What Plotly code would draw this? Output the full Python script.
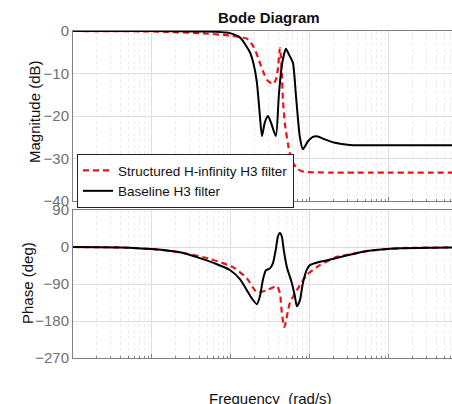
import plotly.graph_objects as go

# ---- data ----
freq_mag_base = [0.1, 1.0, 4.05, 6.27, 8.4, 9.7, 13.0, 17.4, 19.5, 21.3, 23.3, 24.7, 26.9, 29.4, 32.1,
                 37.1, 40.5, 44.2, 49.7, 54.2, 61.0, 66.5, 74.7, 81.5, 94.3, 109, 126, 155, 207, 321, 769, 6310]
mag_base = [0.0, 0.0, -0.1, -0.2, -0.35, -0.5, -1.5, -5.0, -8.0, -12.0, -20.0, -24.7, -21.5, -20.0, -21.5,
            -24.7, -15.0, -8.0, -4.2, -5.5, -7.5, -15.0, -25.0, -27.8, -26.0, -24.9, -24.8, -25.5, -26.3, -26.8, -26.9, -26.9]

freq_mag_struct = [0.1, 1.0, 1.46, 4.05, 9.7, 15.9, 19.0, 21.3, 23.3, 26.2, 28.6, 34.0, 37.1, 39.3, 41.7,
                   42.9, 44.2, 45.5, 48.3, 52.7, 55.8, 61.0, 68.4, 79.3, 91.6, 179, 6310]
mag_struct = [0.0, -0.1, -0.2, -0.5, -1.1, -1.8, -3.5, -5.5, -7.5, -10.0, -11.5, -12.5, -11.5, -9.0, -4.0,
              -6.0, -10.0, -16.0, -21.8, -26.5, -28.8, -31.0, -32.3, -33.0, -33.2, -33.3, -33.3]

freq_ph_base = [0.1, 0.39, 1.0, 2.26, 4.05, 6.27, 9.7, 13.0, 15.9, 18.4, 21.3, 23.3, 25.4, 27.7, 31.2, 34.0,
                37.1, 39.3, 41.7, 44.2, 46.9, 51.2, 59.2, 64.6, 68.4, 74.7, 81.5, 91.6, 100, 134, 195, 321, 527, 1377, 6310]
ph_base = [0, -1, -5, -13, -27, -40, -56, -78, -105, -125, -139, -120, -80, -57, -52, -40,
           -5, 25, 34, 25, -10, -49, -88, -120, -144, -130, -88, -55, -44, -36, -29, -19, -10, -3, -1]

freq_ph_struct = [0.1, 0.39, 1.0, 2.26, 5.42, 10.6, 15.9, 21.3, 28.6, 38.2, 41.7, 44.2, 47.5, 55.8, 68.4,
                  91.6, 134, 220, 321, 527, 1377, 6310]
ph_struct = [0, -1, -5, -13, -29, -49, -76, -110, -105, -95, -112, -161, -195, -136, -105,
             -68, -44, -24, -18, -10, -3, -1]

mag_ticks = [0, -10, -20, -30, -40]
phase_ticks = [90, 0, -90, -180, -270]

name_struct = "Structured H-infinity H3 filter"
name_base = "Baseline H3 filter"

RED = "#e8141c"
BLACK = "#000000"
GRID = "#dedede"
AX = "#808080"
FONT = "Liberation Sans, Arial, sans-serif"
TICKFONT = dict(family=FONT, size=15, color="#707070")

W, H = 452.0, 404.0
L_M = 73.0
PW = W - L_M

fig = go.Figure()
fig.add_trace(go.Scatter(x=freq_mag_struct, y=mag_struct, mode="lines", name=name_struct,
                         line=dict(color=RED, width=2.2, dash="6px,4px", shape="spline", smoothing=0.6),
                         xaxis="x", yaxis="y"))
fig.add_trace(go.Scatter(x=freq_mag_base, y=mag_base, mode="lines", name=name_base,
                         line=dict(color=BLACK, width=2, shape="spline", smoothing=0.6),
                         xaxis="x", yaxis="y"))
fig.add_trace(go.Scatter(x=freq_ph_struct, y=ph_struct, mode="lines", showlegend=False,
                         line=dict(color=RED, width=2.2, dash="6px,4px", shape="spline", smoothing=0.6),
                         xaxis="x2", yaxis="y2"))
fig.add_trace(go.Scatter(x=freq_ph_base, y=ph_base, mode="lines", showlegend=False,
                         line=dict(color=BLACK, width=2, shape="spline", smoothing=0.6),
                         xaxis="x2", yaxis="y2"))


def xaxis_style():
    return dict(type="log", range=[-1, 3.8], showticklabels=False, showgrid=True, gridcolor=GRID,
                gridwidth=1, showline=True, linecolor=AX, linewidth=1, mirror=True,
                ticks="inside", ticklen=4, tickcolor=AX, zeroline=False, automargin=False,
                minor=dict(showgrid=True, gridcolor="#ebebeb", griddash="dot", ticks="inside",
                           ticklen=2, tickcolor=AX))


def px_to_paper(xp, yp):
    return (xp - L_M) / PW, 1 - yp / H


ann = []
tx, ty = px_to_paper(269, 17)
ann.append(dict(text="<b>Bode Diagram</b>", x=tx, y=ty, xref="paper", yref="paper", showarrow=False,
                xanchor="center", yanchor="middle", font=dict(family=FONT, size=15, color="#111111")))
mx, my = px_to_paper(34, 112)
ann.append(dict(text="Magnitude (dB)", x=mx, y=my, xref="paper", yref="paper", showarrow=False,
                textangle=-90, xanchor="center", yanchor="middle",
                font=dict(family=FONT, size=15, color="#111111")))
qx, qy = px_to_paper(27, 283)
ann.append(dict(text="Phase (deg)", x=qx, y=qy, xref="paper", yref="paper", showarrow=False,
                textangle=-90, xanchor="center", yanchor="middle",
                font=dict(family=FONT, size=15, color="#111111")))
fx, fy = px_to_paper(270, 388)
ann.append(dict(text="Frequency  (rad/s)", x=fx, y=fy, xref="paper", yref="paper", showarrow=False,
                xanchor="center", yanchor="top", font=dict(family=FONT, size=15, color="#111111")))

lx, ly = px_to_paper(77, 154)

fig.update_layout(
    width=int(W), height=int(H),
    margin=dict(l=L_M, r=0, t=0, b=0, pad=0, autoexpand=False),
    paper_bgcolor="white", plot_bgcolor="white",
    showlegend=True,
    xaxis=dict(domain=[0, 1], anchor="y", **xaxis_style()),
    xaxis2=dict(domain=[0, 1], anchor="y2", matches="x", **xaxis_style()),
    yaxis=dict(domain=[1 - 201 / H, 1 - 31 / H], range=[-40, 0], tickvals=mag_ticks,
               showgrid=True, gridcolor=GRID, showline=True, linecolor=AX, mirror=True,
               ticks="", zeroline=False, tickfont=TICKFONT, anchor="x", automargin=False),
    yaxis2=dict(domain=[1 - 358 / H, 1 - 210 / H], range=[-270, 90], tickvals=phase_ticks,
                showgrid=True, gridcolor=GRID, showline=True, linecolor=AX, mirror=True,
                ticks="", zeroline=False, tickfont=TICKFONT, anchor="x2", automargin=False),
    legend=dict(x=lx, y=ly, xanchor="left", yanchor="top",
                bgcolor="white", bordercolor="#222222", borderwidth=1,
                font=dict(family=FONT, size=13.5, color="#111111"),
                itemwidth=30, tracegroupgap=0),
    annotations=ann,
)

fig.write_html("out.html", config={"displayModeBar": False},
               post_script="document.body.style.margin='0';document.body.style.overflow='hidden';")
